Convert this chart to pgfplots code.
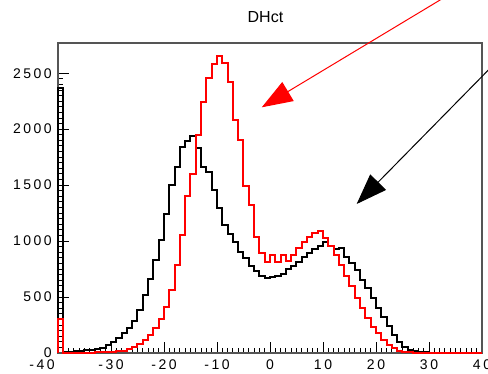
\documentclass[border=0pt]{standalone}
\usepackage{fontspec}
\setmainfont{Liberation Sans}
\newfontfamily\tickfont[LetterSpace=18]{Liberation Sans}
\usepackage{pgfplots}
\pgfplotsset{compat=1.18}
\usetikzlibrary{arrows.meta}
\definecolor{framegray}{HTML}{555555}
\begin{document}
\begin{tikzpicture}
\begin{axis}[
  at={(43.5pt,15.75pt)}, anchor=south west,
  width=318pt, height=232.5pt, scale only axis,
  xmin=-40, xmax=40, ymin=0, ymax=2770,
  xtick={-40,-30,...,40}, ytick={0,500,...,2500},
  xticklabels={{\makebox[0pt][r]{-40\hspace{2.5pt}}},-30,-20,-10,0,10,20,30,40},
  minor x tick num=9, minor y tick num=9,
  xtick pos=left, ytick pos=left,
  tick align=inside,
  major tick length=8pt, minor tick length=4pt,
  tick style={black, line width=0.7pt},
  axis line style={framegray, line width=1.1pt},
  /pgf/number format/assume math mode=true,
  /pgf/number format/1000 sep={},
  ticklabel style={font=\tickfont\fontsize{10.5}{12}\selectfont, inner sep=0pt},
  xticklabel style={yshift=-4.5pt},
  yticklabel style={xshift=-4.5pt},
  clip=false,
]
\addplot[const plot, black, line width=1.5pt] coordinates {
(-40,0) (-40,2366) (-39,8) (-38,12) (-37,15) (-36,20) (-35,25) (-34,30) (-33,35) (-32,45) (-31,70)
(-30,100) (-29,135) (-28,175) (-27,225) (-26,290) (-25,380) (-24,520) (-23,660) (-22,830) (-21,1010)
(-20,1240) (-19,1500) (-18,1660) (-17,1840) (-16,1890) (-15,1935) (-14,1830) (-13,1660) (-12,1620) (-11,1460)
(-10,1300) (-9,1140) (-8,1060) (-7,990) (-6,900) (-5,845) (-4,780) (-3,730) (-2,690) (-1,672)
(0,675) (1,690) (2,710) (3,750) (4,780) (5,810) (6,860) (7,895) (8,930) (9,960)
(10,995) (11,960) (12,925) (13,935) (14,855) (15,800) (16,740) (17,655) (18,580) (19,490)
(20,400) (21,320) (22,240) (23,160) (24,100) (25,57) (26,28) (27,15) (28,8) (29,5)
(30,3) (31,2) (32,2) (33,2) (34,1) (35,1) (36,1) (37,1) (38,1) (39,1) (40,1)
};
\addplot[const plot, red, line width=1.5pt] coordinates {
(-40,0) (-40,305) (-39,2) (-38,2) (-37,2) (-36,3) (-35,3) (-34,4) (-33,5) (-32,6) (-31,8)
(-30,10) (-29,15) (-28,22) (-27,35) (-26,55) (-25,80) (-24,115) (-23,160) (-22,220) (-21,300)
(-20,410) (-19,565) (-18,790) (-17,1050) (-16,1400) (-15,1600) (-14,1950) (-13,2240) (-12,2460) (-11,2580)
(-10,2650) (-9,2590) (-8,2420) (-7,2080) (-6,1900) (-5,1490) (-4,1320) (-3,1040) (-2,890) (-1,810)
(0,880) (1,810) (2,875) (3,820) (4,880) (5,940) (6,990) (7,1040) (8,1075) (9,1090)
(10,1030) (11,960) (12,880) (13,790) (14,690) (15,600) (16,490) (17,400) (18,310) (19,236)
(20,176) (21,116) (22,72) (23,42) (24,20) (25,10) (26,5) (27,3) (28,2) (29,2)
(30,1) (31,1) (32,1) (33,1) (34,1) (35,1) (36,1) (37,1) (38,1) (39,1) (40,1)
};
\end{axis}
\node[font=\fontsize{12}{14}\selectfont, inner sep=0pt] at (199.1pt,267.4pt) {DHct};
\begin{scope}
\clip (0,0) rectangle (366pt,280.5pt);
\draw[red, line width=0.75pt, -{Triangle[length=23pt,width=16.5pt]}] (355pt,295.5pt) -- (196.3pt,200pt);
\draw[black, line width=0.75pt, -{Triangle[length=23pt,width=16.5pt]}] (382.5pt,244.5pt) -- (267.5pt,127.5pt);
\end{scope}
\pgfresetboundingbox
\useasboundingbox (0,0) rectangle (366pt,280.5pt);
\end{tikzpicture}
\end{document}
